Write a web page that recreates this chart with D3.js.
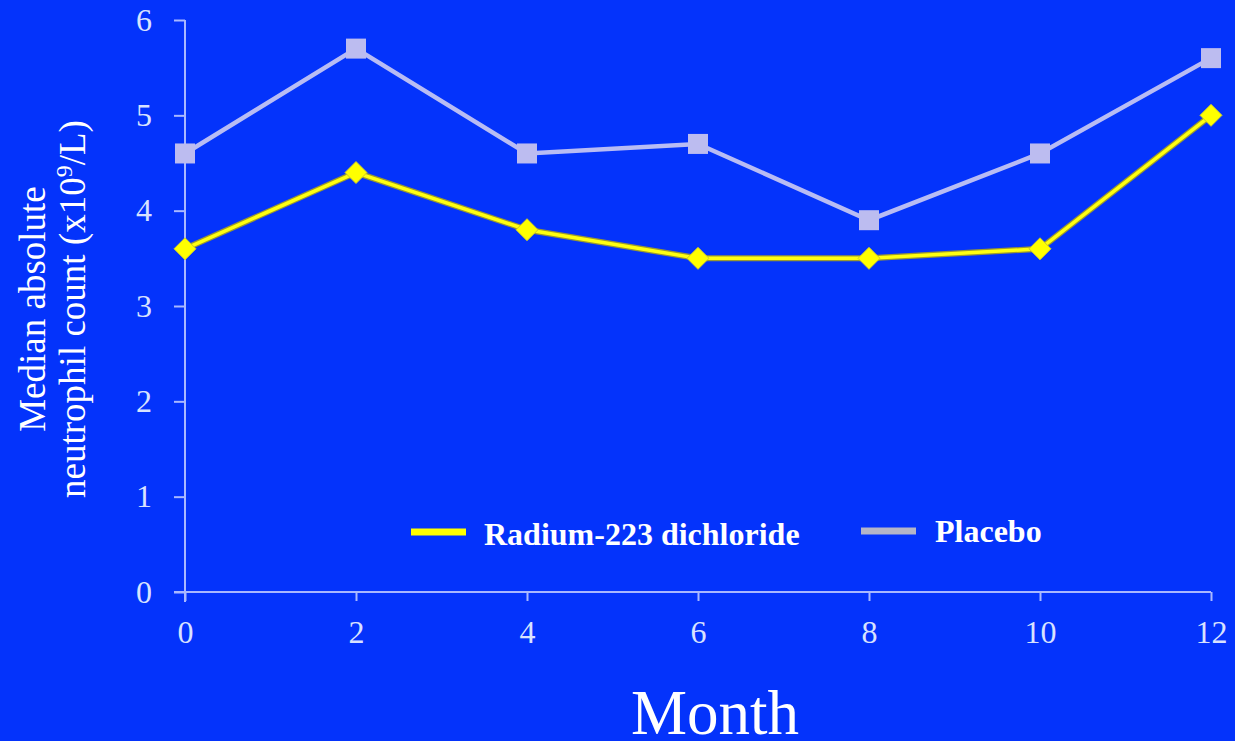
<!DOCTYPE html>
<html><head><meta charset="utf-8">
<script src="https://cdn.jsdelivr.net/npm/d3@7"></script>
<style>body{margin:0;background:#0433fb;}svg{display:block;}</style>
</head><body>
<svg id="c" width="1235" height="741"></svg>
<script>
const months = [0, 2, 4, 6, 8, 10, 12];
const radium = [3.6, 4.4, 3.8, 3.5, 3.5, 3.6, 5.0];
const placebo = [4.6, 5.7, 4.6, 4.7, 3.9, 4.6, 5.6];
const yTicks = [0, 1, 2, 3, 4, 5, 6];
const seriesNames = ["Radium-223 dichloride", "Placebo"];

const svg = d3.select("#c");
svg.append("rect").attr("width",1235).attr("height",741).attr("fill","#0433fb");
const x = d3.scaleLinear().domain([0,12]).range([185,1211]);
const y = d3.scaleLinear().domain([0,6]).range([592,20]);
const axisColor = "#a9b8ff", tickText = "#d8e2ff";

const gy = svg.append("g").attr("transform","translate(185,0)")
  .call(d3.axisLeft(y).tickValues(yTicks).tickFormat(d3.format("d")).tickSize(11).tickPadding(22).tickSizeOuter(0));
const gx = svg.append("g").attr("transform","translate(0,592)")
  .call(d3.axisBottom(x).tickValues(months).tickFormat(d3.format("d")).tickSize(9).tickPadding(19).tickSizeOuter(0));
[gy,gx].forEach(g=>{
  g.attr("font-family","Liberation Serif, serif").attr("font-size",32);
  g.selectAll("path,line").attr("stroke",axisColor).attr("stroke-width",2);
  g.selectAll("text").style("fill",tickText).style("font-family","'Liberation Serif', serif")
    .style("font-size","32px");
});
gy.select(".domain").attr("d","M0,20V602");
gx.select(".domain").attr("d","M174,0H1211");

const line = d3.line().x((d,i)=>x(months[i])).y(d=>y(d));
svg.append("path").datum(placebo).attr("d",line).attr("fill","none")
  .attr("stroke","#b8bcf4").attr("stroke-width",4.5);
svg.append("g").selectAll("rect").data(placebo).join("rect")
  .attr("x",(d,i)=>x(months[i])-10).attr("y",d=>y(d)-10)
  .attr("width",20).attr("height",20).attr("fill","#bcbcf0");

svg.append("path").datum(radium).attr("d",line).attr("fill","none")
  .attr("stroke","#9a9a30").attr("stroke-width",6);
svg.append("path").datum(radium).attr("d",line).attr("fill","none")
  .attr("stroke","#ffff10").attr("stroke-width",3.5);
svg.append("g").selectAll("path").data(radium).join("path")
  .attr("transform",(d,i)=>`translate(${x(months[i])},${y(d)})`)
  .attr("d","M0,-11L11,0L0,11L-11,0Z").attr("fill","#ffff00")
  .attr("stroke","#c8c830").attr("stroke-width",1);

// legend
const leg = [{c:"#ffff00",x1:411,y:532,tx:484,ty:545},{c:"#b4b6c8",x1:861,y:531,tx:935,ty:542}];
leg.forEach((l,i)=>{
  svg.append("line").attr("x1",l.x1).attr("x2",l.x1+55).attr("y1",l.y).attr("y2",l.y)
    .attr("stroke",l.c).attr("stroke-width",7);
  svg.append("text").attr("x",l.tx).attr("y",l.ty).text(seriesNames[i])
    .attr("fill","#fff").attr("font-family","Liberation Serif, serif")
    .attr("font-weight","bold").attr("font-size",32);
});

// axis titles
const yt = svg.append("text").attr("transform","translate(0,309) rotate(-90)")
  .attr("text-anchor","middle").attr("fill","#fff")
  .attr("font-family","Liberation Serif, serif").attr("font-size",37);
yt.append("tspan").attr("x",0).attr("y",45).text("Median absolute");
const t2 = yt.append("tspan").attr("x",0).attr("y",85).text("neutrophil count (x10");
t2.append("tspan").attr("font-size",24).attr("dy",-13).text("9");
t2.append("tspan").attr("dy",13).text("/L)");

svg.append("text").attr("x",715).attr("y",734).attr("text-anchor","middle")
  .attr("fill","#fff").attr("font-family","Liberation Serif, serif").attr("font-size",63).text("Month");
</script>
</body></html>
